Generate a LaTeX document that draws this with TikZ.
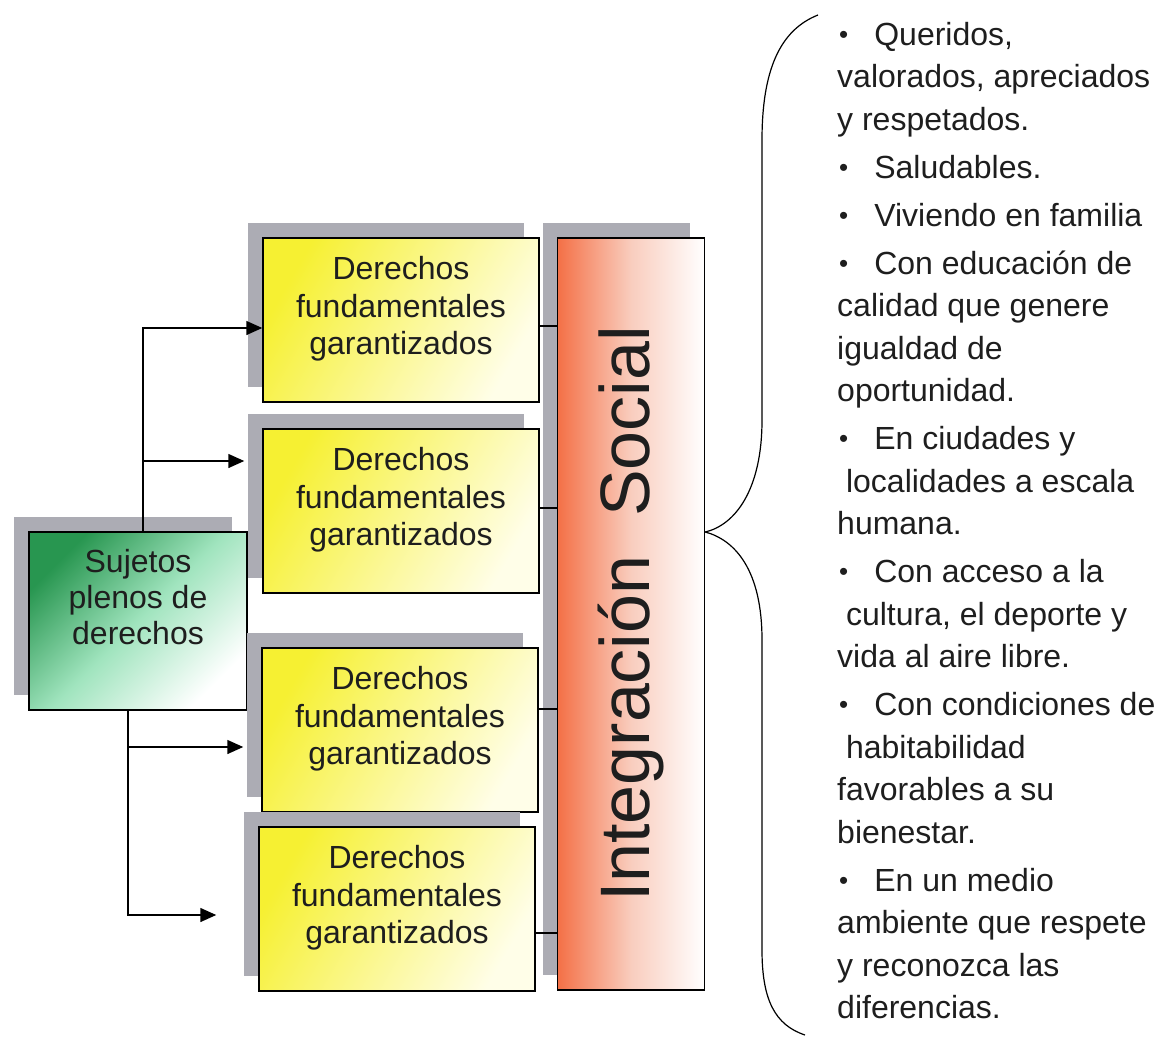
\documentclass[tikz,border=0pt]{standalone}
\usepackage{fontspec}
\setmainfont{Liberation Sans}
\usepackage{xcolor}
\usepackage{graphicx}
\usepackage{tikz}
\usetikzlibrary{shadows,arrows.meta}

\definecolor{sombra}{RGB}{172,172,180}
\definecolor{verde}{RGB}{40,150,80}
\definecolor{menta}{RGB}{160,228,190}
\definecolor{amarillo}{RGB}{246,240,50}
\definecolor{crema}{RGB}{255,254,232}
\definecolor{naranja}{RGB}{244,112,70}
\definecolor{rosado}{RGB}{249,205,190}
\definecolor{tinta}{RGB}{30,30,30}

\newcommand{\vin}{\hspace{2pt}\raisebox{2pt}{\fontsize{26}{26}\selectfont•}\hspace{26pt}}

\begin{document}
\begin{tikzpicture}[x=1pt,y=-1pt]
        \tikzstyle{every node}=[inner sep=0pt,text=tinta,font=\fontsize{32}{37.5}\selectfont]
        \tikzstyle{caja}=[draw,line width=1.5pt,drop shadow={shadow xshift=-15pt,shadow yshift=15pt,fill=sombra,opacity=1}]
        \tikzstyle{derecho}=[caja,minimum width=276pt,minimum height=164pt,align=center,text depth=29pt,left color=amarillo,right color=crema,shading angle=60]
        \tikzstyle{flecha}=[line width=1.5pt,-{Triangle[length=16pt,width=14pt]}]
        \tikzstyle{linea}=[line width=1.5pt]
        \useasboundingbox (0,0) rectangle (1161,1038);
        \node[caja,minimum width=218pt,minimum height=178pt,align=center,text depth=49pt,
            font=\fontsize{32}{36}\selectfont,left color=verde,right color=white,middle color=menta,shading angle=45]
            (suj) at (138,621) {Sujetos\\plenos de\\derechos};
        \node[derecho] (d1) at (401,320) {Derechos\\fundamentales\\garantizados};
        \node[derecho] (d2) at (401,511) {Derechos\\fundamentales\\garantizados};
        \node[derecho] (d3) at (400,730) {Derechos\\fundamentales\\garantizados};
        \node[derecho] (d4) at (397,909) {Derechos\\fundamentales\\garantizados};
        \node[caja,minimum width=147pt,minimum height=752pt,left color=naranja,right color=white,middle color=rosado,
            font=\fontsize{70}{70}\selectfont] (bar) at (631,614)
            {\rotatebox{90}{\raisebox{0pt}[51pt][15pt]{Integración\ \ Social}}};
        \node[anchor=north west,align=left,font=\fontsize{32}{42.5}\selectfont] (lista) at (837,22)
            {\vin Queridos,\\valorados, apreciados\\y respetados.\\[5.5pt]
             \vin Saludables.\\[5.5pt]
             \vin Viviendo en familia\\[5.5pt]
             \vin Con educación de\\calidad que genere\\igualdad de\\oportunidad.\\[5.5pt]
             \vin En ciudades y\\\ localidades a escala\\humana.\\[5.5pt]
             \vin Con acceso a la\\\ cultura, el deporte y\\vida al aire libre.\\[5.5pt]
             \vin Con condiciones de\\\ habitabilidad\\favorables a su\\bienestar.\\[5.5pt]
             \vin En un medio\\ambiente que respete\\y reconozca las\\diferencias.};
        % flechas desde sujetos
        \coordinate (tronco) at ([xshift=5pt]suj.north);
        \coordinate (raiz) at ([xshift=-10pt]suj.south);
        \coordinate (a2) at ([xshift=-18pt,yshift=50pt]d2.west);
        \coordinate (a3) at ([xshift=-18pt,yshift=-17pt]d3.west);
        \coordinate (a4) at ([xshift=-42pt,yshift=-6pt]d4.west);
        \draw[flecha] (tronco) |- ([yshift=-8pt]d1.west);
        \draw[flecha] (tronco |- a2) -- (a2);
        \draw[flecha] (raiz) |- (a4);
        \draw[flecha] (raiz |- a3) -- (a3);
        % uniones con la barra
        \foreach \i/\s in {1/-6,2/3,3/21,4/-24}{
            \coordinate (b) at ([yshift=\s pt]d\i.east);
            \draw[linea] (b) -- (b -| bar.west);
        }
        % llave
        \coordinate (punta) at ([yshift=82pt]bar.east);
        \draw[line width=1.2pt] (punta) .. controls (735,525) and (762,490) .. (762,420) -- (762,140)
            .. controls (762,70) and (780,30) .. (818,15);
        \draw[line width=1.2pt] (punta) .. controls (735,540) and (762,570) .. (762,640) -- (762,950)
            .. controls (762,1000) and (775,1025) .. (805,1035);
\end{tikzpicture}
\end{document}
